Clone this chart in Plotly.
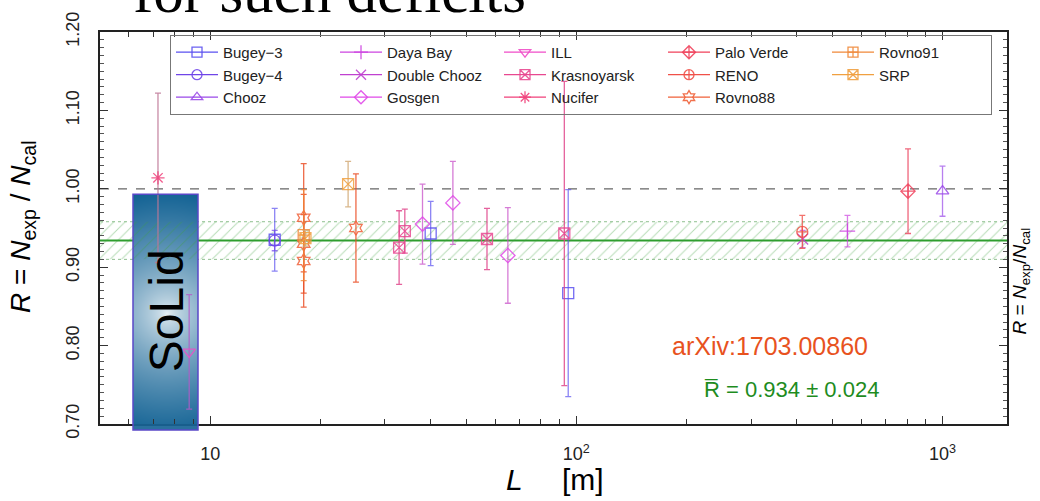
import base64, struct, zlib, math
import numpy as np
import plotly.graph_objects as go

# ---------------- data ----------------
experiments = ["Bugey\u22123", "Bugey\u22124", "Chooz", "Daya Bay", "Double Chooz", "Gosgen",
               "ILL", "Krasnoyarsk", "Nucifer", "Palo Verde", "RENO", "Rovno88", "Rovno91", "SRP"]

bugey3_L = [15.0, 40.0, 95.0];        bugey3_R = [0.935, 0.943, 0.867];     bugey3_E = [0.040, 0.041, 0.132]
bugey4_L = [15.0];                    bugey4_R = [0.934];                   bugey4_E = [0.013]
chooz_L = [1000.0];                   chooz_R = [0.997];                    chooz_E = [0.032]
dayabay_L = [550.0];                  dayabay_R = [0.946];                  dayabay_E = [0.020]
dchooz_L = [415.0];                   dchooz_R = [0.936];                   dchooz_E = [0.011]
gosgen_L = [38.0, 46.0, 65.0];        gosgen_R = [0.955, 0.982, 0.915];     gosgen_E = [0.051, 0.053, 0.061]
ill_L = [8.76];                       ill_R = [0.792];                      ill_E = [0.073]
krasn_L = [32.8, 34.0, 57.0, 92.7];   krasn_R = [0.925, 0.946, 0.936, 0.943]; krasn_E = [0.047, 0.028, 0.039, 0.194]
nucifer_L = [7.2];                    nucifer_R = [1.014];                  nucifer_E = [0.108]
paloverde_L = [805.0];                paloverde_R = [0.997];                paloverde_E = [0.054]
reno_L = [414.0];                     reno_R = [0.945];                     reno_E = [0.021]
rovno88_L = [18.0, 18.0, 18.0, 25.0]; rovno88_R = [0.963, 0.930, 0.908, 0.950]; rovno88_E = [0.069, 0.063, 0.059, 0.069]
rovno91_L = [18.0];                   rovno91_R = [0.941];                  rovno91_E = [0.058]
srp_L = [18.2, 23.8];                 srp_R = [0.937, 1.006];               srp_E = [0.010, 0.029]

mean_R = 0.934
mean_err = 0.024

x_tickvals = [10, 100, 1000]
x_ticktext = ["10", "10<sup>2</sup>", "10<sup>3</sup>"]
y_tickvals = [0.70, 0.80, 0.90, 1.00, 1.10, 1.20]
y_ticktext = ["0.70", "0.80", "0.90", "1.00", "1.10", "1.20"]

series = {
    "Bugey\u22123": (bugey3_L, bugey3_R, bugey3_E),
    "Bugey\u22124": (bugey4_L, bugey4_R, bugey4_E),
    "Chooz": (chooz_L, chooz_R, chooz_E),
    "Daya Bay": (dayabay_L, dayabay_R, dayabay_E),
    "Double Chooz": (dchooz_L, dchooz_R, dchooz_E),
    "Gosgen": (gosgen_L, gosgen_R, gosgen_E),
    "ILL": (ill_L, ill_R, ill_E),
    "Krasnoyarsk": (krasn_L, krasn_R, krasn_E),
    "Nucifer": (nucifer_L, nucifer_R, nucifer_E),
    "Palo Verde": (paloverde_L, paloverde_R, paloverde_E),
    "RENO": (reno_L, reno_R, reno_E),
    "Rovno88": (rovno88_L, rovno88_R, rovno88_E),
    "Rovno91": (rovno91_L, rovno91_R, rovno91_E),
    "SRP": (srp_L, srp_R, srp_E),
}

# ---------------- styles ----------------
colors = {
    "Bugey\u22123": "#5a50f0", "Bugey\u22124": "#6f45e8", "Chooz": "#9a48e8",
    "Daya Bay": "#cc44e0", "Double Chooz": "#c040d0", "Gosgen": "#e048e8",
    "ILL": "#f04cc8", "Krasnoyarsk": "#e84890", "Nucifer": "#f0407a",
    "Palo Verde": "#f0405a", "RENO": "#f05048", "Rovno88": "#f06038",
    "Rovno91": "#f08838", "SRP": "#f0a040",
}
err_colors = {
    "Bugey\u22123": "rgba(90,80,240,0.7)", "Bugey\u22124": "rgba(111,69,232,0.7)",
    "Chooz": "rgba(154,72,232,0.7)", "Daya Bay": "rgba(204,68,224,0.7)",
    "Double Chooz": "rgba(192,64,208,0.7)", "Gosgen": "rgba(200,80,200,0.75)",
    "ILL": "rgba(180,90,200,0.8)", "Krasnoyarsk": "rgba(225,70,140,0.85)",
    "Nucifer": "rgba(190,120,150,0.85)", "Palo Verde": "rgba(235,64,90,0.8)",
    "RENO": "rgba(240,80,72,0.8)", "Rovno88": "rgba(235,80,40,0.85)",
    "Rovno91": "rgba(240,136,56,0.8)", "SRP": "rgba(210,170,120,0.85)",
}
symbols = {
    "Bugey\u22123": "square-open", "Bugey\u22124": "circle-open", "Chooz": "triangle-up-open",
    "Daya Bay": "cross-thin-open", "Double Chooz": "x-thin-open", "Gosgen": "diamond-open",
    "ILL": "triangle-down-open", "Krasnoyarsk": "square-x-open", "Nucifer": "asterisk-open",
    "Palo Verde": "diamond-cross-open", "RENO": "circle-cross-open", "Rovno88": "hexagram-open",
    "Rovno91": "square-cross-open", "SRP": "square-x-open",
}

fig = go.Figure()

XMIN, XMAX = 5.0, 1500.0
YMIN, YMAX = 0.70, 1.20

# hatched band for mean +- error
fig.add_trace(go.Scatter(
    x=[XMIN, XMAX, XMAX, XMIN, XMIN],
    y=[mean_R - mean_err, mean_R - mean_err, mean_R + mean_err, mean_R + mean_err, mean_R - mean_err],
    mode="lines", line=dict(width=0), fill="toself",
    fillcolor="rgba(0,0,0,0)",
    fillpattern=dict(shape="/", fgcolor="rgba(60,160,60,0.75)", bgcolor="rgba(255,255,255,0)",
                     size=8, solidity=0.12),
    showlegend=False, hoverinfo="skip"))

# data points
for name in experiments:
    L, R, E = series[name]
    fig.add_trace(go.Scatter(
        x=L, y=R, mode="markers", name=name, showlegend=False,
        marker=dict(symbol=symbols[name], size=11, color=colors[name],
                    line=dict(width=1.3, color=colors[name]), opacity=0.85),
        error_y=dict(type="data", array=E, visible=True, color=err_colors[name],
                     thickness=1.3, width=3)))

# legend-only entries (row-major order to mimic column layout)
ncol, nrow = 5, 3
order = []
for r in range(nrow):
    for c in range(ncol):
        i = c * nrow + r
        if i < len(experiments):
            order.append(experiments[i])
for name in order:
    fig.add_trace(go.Scatter(
        x=[None], y=[None], mode="lines+markers", name=name,
        line=dict(color=colors[name], width=1.3),
        marker=dict(symbol=symbols[name], size=10, color=colors[name],
                    line=dict(width=1.3, color=colors[name]), opacity=0.9)))

# ---------------- SoLid gradient box (decoration) ----------------
W, H = 66, 238
yy, xx = np.mgrid[0:H, 0:W]
cx, cy = 34.0, 120.0
d = np.sqrt((xx - cx) ** 2 + (yy - cy) ** 2) / 125.0
t = np.clip(d, 0, 1) ** 0.65
light = np.array([236, 243, 247], float)
dark = np.array([18, 98, 148], float)
img = (light[None, None, :] * (1 - t[..., None]) + dark[None, None, :] * t[..., None]).astype(np.uint8)
raw = b"".join(b"\x00" + img[i].tobytes() for i in range(H))
def _chunk(tag, data):
    return struct.pack(">I", len(data)) + tag + data + struct.pack(">I", zlib.crc32(tag + data) & 0xffffffff)
png = (b"\x89PNG\r\n\x1a\n" + _chunk(b"IHDR", struct.pack(">IIBBBBB", W, H, 8, 2, 0, 0, 0))
       + _chunk(b"IDAT", zlib.compress(raw)) + _chunk(b"IEND", b""))
src = "data:image/png;base64," + base64.b64encode(png).decode()

PL, PW, PT, PH = 100, 907, 28, 396
def px(x):
    return (x - PL) / PW
def py(y):
    return (PT + PH - y) / PH

LX0, LX1 = math.log10(XMIN), math.log10(XMAX)
def pix_to_logx(p):
    return LX0 + (p - PL) / PW * (LX1 - LX0)
def pix_to_y(p):
    return YMIN + (PT + PH - p) / PH * (YMAX - YMIN)

box_x0, box_x1, box_y0, box_y1 = 133, 198, 192, 430

# image on the data axes: drawn above the reference lines, below the data marks
fig.add_layout_image(dict(source=src, xref="x", yref="y",
                          x=pix_to_logx(box_x0), y=pix_to_y(box_y0),
                          sizex=pix_to_logx(box_x1) - pix_to_logx(box_x0),
                          sizey=pix_to_y(box_y0) - pix_to_y(box_y1),
                          xanchor="left", yanchor="top", sizing="stretch", layer="below", opacity=1.0))

shapes = [
    dict(type="line", xref="x", yref="y", x0=XMIN, x1=XMAX, y0=1.0, y1=1.0,
         line=dict(color="#666666", width=1.2, dash="dash"), layer="below"),
    dict(type="line", xref="x", yref="y", x0=XMIN, x1=XMAX, y0=mean_R + mean_err, y1=mean_R + mean_err,
         line=dict(color="rgba(70,150,70,0.6)", width=1, dash="dot"), layer="below"),
    dict(type="line", xref="x", yref="y", x0=XMIN, x1=XMAX, y0=mean_R - mean_err, y1=mean_R - mean_err,
         line=dict(color="rgba(70,150,70,0.6)", width=1, dash="dot"), layer="below"),
    dict(type="line", xref="x", yref="y", x0=XMIN, x1=XMAX, y0=mean_R, y1=mean_R,
         line=dict(color="#2e9e2e", width=2), layer="below"),
    # part of the box hanging below the axis
    dict(type="rect", xref="paper", yref="paper", x0=px(box_x0), x1=px(box_x1),
         y0=py(box_y1), y1=py(PT + PH), line=dict(width=0),
         fillcolor="rgba(24,100,150,0.92)", layer="above"),
    dict(type="rect", xref="paper", yref="paper", x0=px(box_x0), x1=px(box_x1),
         y0=py(box_y1), y1=py(box_y0), line=dict(color="#5a48c8", width=1.5),
         fillcolor="rgba(0,0,0,0)", layer="above"),
]

FONT = "Liberation Sans, Arial, sans-serif"
def ann(text, x, y, size, color="#000000", angle=0, family=FONT, xa="center", ya="middle"):
    return dict(text=text, xref="paper", yref="paper", x=x, y=y, xanchor=xa, yanchor=ya,
                textangle=angle, showarrow=False, font=dict(family=family, size=size, color=color))

annotations = [
    ann("for such deficits", px(131), py(22.5), 61, family="Liberation Serif, Times New Roman, serif",
        xa="left", ya="bottom"),
    ann("SoLid", px(166), py(310), 48, angle=-90),
    ann("arXiv:1703.00860", px(770), py(345), 25, color="#e8521e"),
    ann("R\u0305 = 0.934 \u00b1 0.024", px(791), py(389), 22, color="#1e8c1e"),
    ann("<i>R</i> = <i>N</i><sub>exp</sub> / <i>N</i><sub>cal</sub>", px(22), py(225), 28, angle=-90),
    ann("<i>R</i> = <i>N</i><sub>exp</sub>/<i>N</i><sub>cal</sub>", px(1021), py(280), 19, angle=-90),
    ann("<i>L</i>", px(514), py(480), 30),
    ann("[m]", px(583), py(480), 30),
]

minor_x = [6, 7, 8, 9, 20, 30, 40, 50, 60, 70, 80, 90, 200, 300, 400, 500, 600, 700, 800, 900]

fig.update_layout(
    width=1040, height=501, autosize=False,
    margin=dict(l=PL, r=1040 - PL - PW, t=PT, b=501 - PT - PH),
    paper_bgcolor="white", plot_bgcolor="white",
    font=dict(family=FONT, color="#222222"),
    shapes=shapes, annotations=annotations,
    showlegend=True,
    legend=dict(orientation="h", x=px(170), y=py(31), xanchor="left", yanchor="top",
                itemwidth=42, entrywidth=107, entrywidthmode="pixels",
                bgcolor="rgba(255,255,255,0)", bordercolor="#777777", borderwidth=1,
                font=dict(family=FONT, size=15, color="#222222"), traceorder="normal"),
    xaxis=dict(type="log", range=[LX0, LX1],
               tickmode="array", tickvals=x_tickvals, ticktext=x_ticktext,
               ticks="inside", ticklen=8, tickwidth=1, tickcolor="#333333",
               showline=True, linecolor="#222222", linewidth=1.5, mirror="allticks",
               showgrid=False, zeroline=False, ticklabelstandoff=13,
               tickfont=dict(size=18, color="#222222"),
               minor=dict(tickmode="array", tickvals=minor_x, ticks="inside", ticklen=5,
                          tickcolor="#333333", showgrid=False)),
    yaxis=dict(range=[YMIN, YMAX], tickmode="array", tickvals=y_tickvals, ticktext=y_ticktext,
               tickangle=-90, ticks="inside", ticklen=8, tickwidth=1, tickcolor="#333333",
               showline=True, linecolor="#222222", linewidth=1.5, mirror="allticks",
               showgrid=False, zeroline=False, ticklabelstandoff=12,
               tickfont=dict(size=18, color="#222222"),
               minor=dict(dtick=0.01, ticks="inside", ticklen=4, tickcolor="#555555", showgrid=False)),
)

fig.write_html("out.html")
